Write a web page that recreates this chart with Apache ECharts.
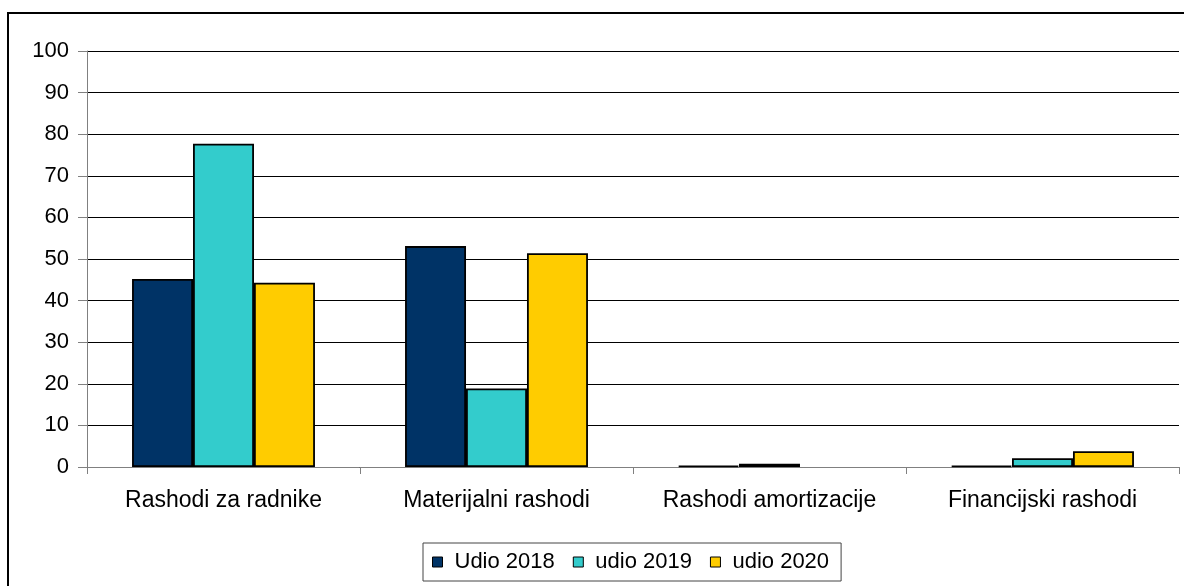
<!DOCTYPE html>
<html>
<head>
<meta charset="utf-8">
<script src="https://cdn.jsdelivr.net/npm/echarts@6/dist/echarts.min.js"></script>
<style>
html,body{margin:0;padding:0;background:#fff;}
#chart{width:1184px;height:586px;}
</style>
</head>
<body>
<div id="chart"></div>
<script>
var categories = ['Rashodi za radnike', 'Materijalni rashodi', 'Rashodi amortizacije', 'Financijski rashodi'];
var seriesNames = ['Udio 2018', 'udio 2019', 'udio 2020'];
var udio2018 = [45.2, 53.1, 0.3, 0.3];
var udio2019 = [77.7, 18.9, 0.8, 2.1];
var udio2020 = [44.3, 51.4, 0, 3.8];
var colors = ['#003366', '#33CCCC', '#FFCC00'];

var font = 'Arial, "Liberation Sans", sans-serif';
var chart = echarts.init(document.getElementById('chart'), null, {renderer: 'canvas'});
var dataSets = [udio2018, udio2019, udio2020];
var series = seriesNames.map(function (n, i) {
  return {
    name: n,
    type: 'bar',
    data: dataSets[i].map(function (v) {
      return v === 0 ? {value: v, itemStyle: {borderWidth: 0}} : v;
    }),
    barGap: '0%',
    barCategoryGap: '33%',
    itemStyle: {color: colors[i], borderColor: '#000', borderWidth: 1.8},
    emphasis: {disabled: true}
  };
});

chart.setOption({
  animation: false,
  backgroundColor: '#fff',
  graphic: [{
    type: 'rect',
    z: -10,
    shape: {x: 8, y: 13, width: 1220, height: 620},
    style: {fill: 'none', stroke: '#000', lineWidth: 2}
  }],
  grid: {left: 87, right: 5, top: 51, bottom: 119, containLabel: false},
  legend: {
    left: 423,
    top: 543,
    data: seriesNames,
    icon: 'rect',
    itemWidth: 10,
    itemHeight: 10,
    itemGap: 18,
    padding: [8, 12, 8, 9],
    borderColor: '#444',
    borderWidth: 1,
    itemStyle: {borderColor: '#000', borderWidth: 1},
    textStyle: {fontFamily: font, fontSize: 22, color: '#000', padding: [0, 0, 0, 7]}
  },
  xAxis: {
    type: 'category',
    data: categories,
    axisLine: {lineStyle: {color: '#808080', width: 1}},
    axisTick: {show: true, length: 7, lineStyle: {color: '#808080'}},
    axisLabel: {fontFamily: font, fontSize: 23, color: '#000', margin: 22, interval: 0, hideOverlap: false},
    splitLine: {show: false}
  },
  yAxis: {
    type: 'value',
    min: 0,
    max: 100,
    interval: 10,
    axisLine: {show: true, lineStyle: {color: '#808080', width: 1}},
    axisTick: {show: true, length: 9, lineStyle: {color: '#808080'}},
    axisLabel: {fontFamily: font, fontSize: 22, color: '#000', margin: 18},
    splitLine: {show: true, lineStyle: {color: '#000', width: 1}}
  },
  series: series
});
</script>
</body>
</html>
